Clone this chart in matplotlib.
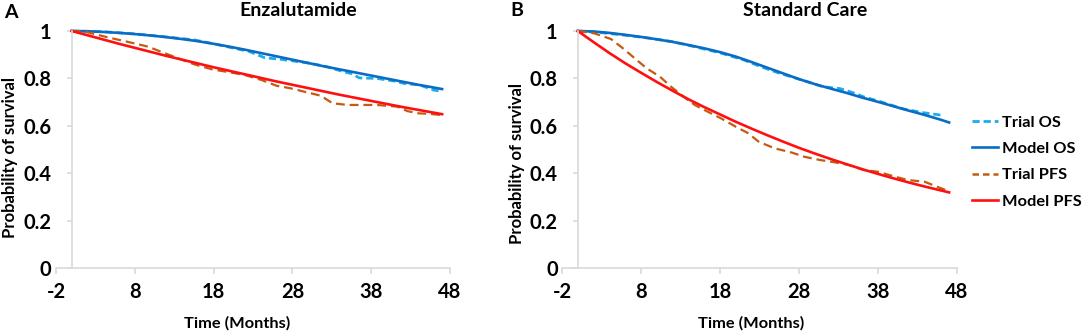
import matplotlib
matplotlib.use('Agg')
import matplotlib.pyplot as plt
from matplotlib.ticker import FuncFormatter
from matplotlib.lines import Line2D

plt.rcParams['font.family'] = ['Lato', 'DejaVu Sans']
plt.rcParams['font.weight'] = 'bold'
plt.rcParams['axes.unicode_minus'] = False

# ---- data (months, probability) ----
model_t = [0, 2, 4, 6, 8, 10, 12, 14, 16, 18, 20, 22, 24, 26, 28, 30, 32, 34, 36, 38,
           40, 42, 44, 46, 47]

# A: Enzalutamide
a_model_os = [1.0, 0.999, 0.996, 0.992, 0.987, 0.981, 0.974, 0.966, 0.957, 0.946, 0.934,
              0.921, 0.907, 0.893, 0.879, 0.865, 0.851, 0.838, 0.825, 0.812, 0.799, 0.786,
              0.773, 0.761, 0.755]
a_model_pfs = [1.0, 0.982, 0.964, 0.946, 0.929, 0.912, 0.895, 0.879, 0.863, 0.847, 0.832,
               0.817, 0.802, 0.787, 0.773, 0.759, 0.745, 0.731, 0.718, 0.705, 0.692, 0.679,
               0.667, 0.655, 0.649]

a_trial_os_t = [0, 4, 8, 12, 14, 15.6, 18, 20.5, 22.5, 24.5, 26.4, 28.5, 30.2, 32.3, 34.5,
                35.5, 36.5, 38.7, 40.9, 42.1, 44.2, 45.9, 47]
a_trial_os = [1.0, 0.997, 0.988, 0.975, 0.968, 0.962, 0.946, 0.928, 0.914, 0.887, 0.881,
              0.872, 0.864, 0.85, 0.828, 0.82, 0.802, 0.80, 0.789, 0.779, 0.772, 0.751, 0.745]

a_trial_pfs_t = [0, 1.7, 4.6, 7, 9.7, 11.5, 13.5, 15.5, 17.8, 20, 22, 24.1, 26, 27.8,
                 29.5, 31.6, 33.1, 35, 38.7, 41.3, 42.6, 43.9, 45.5, 47]
a_trial_pfs = [1.0, 0.997, 0.973, 0.955, 0.934, 0.91, 0.885, 0.86, 0.838, 0.826, 0.814,
               0.793, 0.769, 0.758, 0.744, 0.727, 0.695, 0.688, 0.688, 0.681, 0.662,
               0.653, 0.65, 0.645]

# B: Standard Care
b_model_os = [1.0, 0.998, 0.992, 0.984, 0.975, 0.965, 0.954, 0.941, 0.927, 0.911, 0.892,
              0.869, 0.845, 0.821, 0.797, 0.776, 0.757, 0.739, 0.719, 0.701, 0.682, 0.663,
              0.645, 0.625, 0.614]
b_model_pfs = [1.0, 0.953, 0.907, 0.864, 0.824, 0.785, 0.748, 0.712, 0.679, 0.648, 0.617,
               0.588, 0.560, 0.533, 0.507, 0.483, 0.460, 0.438, 0.417, 0.397, 0.378, 0.360,
               0.343, 0.327, 0.319]

b_trial_os_t = [0, 3, 6, 9, 12, 15, 18, 21, 23.2, 25.5, 28.5, 31, 33.2, 35, 36.2, 38.5,
                41.1, 43.6, 46]
b_trial_os = [1.0, 0.993, 0.982, 0.97, 0.955, 0.932, 0.908, 0.878, 0.849, 0.822, 0.792,
              0.765, 0.757, 0.738, 0.722, 0.70, 0.672, 0.656, 0.645]

b_trial_pfs_t = [0, 2.1, 4.2, 5.6, 7.2, 8.7, 10.4, 11.8, 13.3, 14.8, 16.3, 18.1, 20, 21.5,
                 22.9, 24.9, 27.1, 28.6, 30.6, 32.5, 34.3, 36.2, 38, 40.2, 41.8, 43.9,
                 45.7, 46.5]
b_trial_pfs = [1.0, 0.99, 0.966, 0.93, 0.885, 0.843, 0.807, 0.765, 0.725, 0.688, 0.662,
               0.632, 0.596, 0.57, 0.533, 0.505, 0.487, 0.47, 0.456, 0.446, 0.435, 0.413,
               0.406, 0.385, 0.371, 0.364, 0.34, 0.33]

x_ticks = [-2, 8, 18, 28, 38, 48]
y_ticks = [0, 0.2, 0.4, 0.6, 0.8, 1]

c_trial_os = '#1AAEEB'
c_model_os = '#0A6CC4'
c_trial_pfs = '#C55A11'
c_model_pfs = '#FF1010'
grey = '#D9D9D9'


def draw_panel(ax, data):
    (trial_os_t, trial_os, model_os, trial_pfs_t, trial_pfs, model_pfs) = data
    ax.plot(trial_os_t, trial_os, color=c_trial_os, lw=2.0, dashes=(2.6, 1.4), clip_on=False)
    ax.plot(model_t, model_os, color=c_model_os, lw=1.9, clip_on=False)
    ax.plot(trial_pfs_t, trial_pfs, color=c_trial_pfs, lw=1.6, dashes=(4, 2.2), clip_on=False)
    ax.plot(model_t, model_pfs, color=c_model_pfs, lw=1.9, clip_on=False)

    ax.set_xlim(-2, 48)
    ax.set_ylim(0, 1)
    ax.set_xticks(x_ticks)
    ax.set_yticks(y_ticks)
    ax.yaxis.set_major_formatter(FuncFormatter(lambda v, p: '%g' % v))
    for s in ['top', 'right']:
        ax.spines[s].set_visible(False)
    ax.spines['left'].set_position(('data', 0))
    ax.spines['left'].set_color(grey)
    ax.spines['bottom'].set_color(grey)
    ax.spines['left'].set_linewidth(1.2)
    ax.spines['bottom'].set_linewidth(1.2)
    ax.tick_params(axis='x', direction='out', length=4, width=1.2, color=grey,
                   labelsize=14.5, pad=6)
    ax.tick_params(axis='y', direction='out', length=3.5, width=1.2, color=grey,
                   labelsize=14.5, pad=11)
    for lab in ax.get_xticklabels() + ax.get_yticklabels():
        lab.set_fontweight('bold')


fig = plt.figure(figsize=(10.84, 3.35), dpi=100)
W, H = 1084.0, 335.0

ax1 = fig.add_axes([56 / W, 1 - 268 / H, 394 / W, 237 / H])
ax2 = fig.add_axes([562 / W, 1 - 268 / H, 395 / W, 237 / H])

draw_panel(ax1, (a_trial_os_t, a_trial_os, a_model_os,
                 a_trial_pfs_t, a_trial_pfs, a_model_pfs))
draw_panel(ax2, (b_trial_os_t, b_trial_os, b_model_os,
                 b_trial_pfs_t, b_trial_pfs, b_model_pfs))

# titles, panel letters, axis labels
fig.text(298 / W, 1 - 11 / H, 'Enzalutamide', ha='center', va='center', fontsize=14, weight='bold')
fig.text(805 / W, 1 - 11 / H, 'Standard Care', ha='center', va='center', fontsize=14, weight='bold')
fig.text(11 / W, 1 - 12 / H, 'A', ha='center', va='center', fontsize=14, weight='bold')
fig.text(517 / W, 1 - 10 / H, 'B', ha='center', va='center', fontsize=14, weight='bold')
fig.text(10 / W, 1 - 157 / H, 'Probability of survival', ha='center', va='center',
         rotation=90, fontsize=12, weight='bold')
fig.text(517 / W, 1 - 164 / H, 'Probability of survival', ha='center', va='center',
         rotation=90, fontsize=12, weight='bold')
fig.text(237 / W, 1 - 323 / H, 'Time (Months)', ha='center', va='center', fontsize=11.8, weight='bold')
fig.text(751 / W, 1 - 323 / H, 'Time (Months)', ha='center', va='center', fontsize=11.8, weight='bold')

handles = [
    Line2D([], [], color=c_trial_os, lw=2.0, dashes=(2.6, 1.4)),
    Line2D([], [], color=c_model_os, lw=1.9),
    Line2D([], [], color=c_trial_pfs, lw=1.8, dashes=(2.6, 1.6)),
    Line2D([], [], color=c_model_pfs, lw=1.9),
]
labels = ['Trial OS', 'Model OS', 'Trial PFS', 'Model PFS']
leg = fig.legend(handles, labels, loc='center left', bbox_to_anchor=(972 / W, 1 - 162 / H),
                 frameon=False, fontsize=11.8, handlelength=1.6, handletextpad=0.2,
                 labelspacing=0.72, borderaxespad=0, borderpad=0)
for t in leg.get_texts():
    t.set_fontweight('bold')

fig.savefig('out.png', dpi=100)
